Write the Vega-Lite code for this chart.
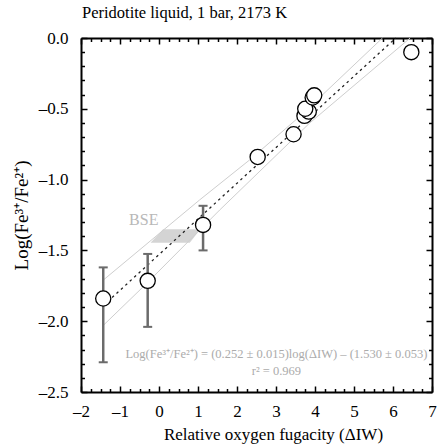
{
  "$schema": "https://vega.github.io/schema/vega-lite/v6.json",
  "autosize": "none",
  "width": 351,
  "height": 354,
  "padding": {"left": 81, "top": 38, "right": 5, "bottom": 55},
  "background": "white",
  "title": {"text": "Peridotite liquid, 1 bar, 2173 K", "anchor": "start", "frame": "group", "font": "Liberation Serif", "fontSize": 16.5, "fontWeight": "normal", "color": "black", "offset": 8, "dx": 1},
  "config": {
    "view": {"stroke": null},
    "axis": {"domainColor": "black", "domainWidth": 2, "tickColor": "black", "tickWidth": 1.5, "labelFont": "Liberation Serif", "labelFontSize": 17, "labelColor": "black", "titleFont": "Liberation Serif", "titleFontSize": 17, "titleFontWeight": "normal", "titleColor": "black", "grid": false, "labelOverlap": false, "labelFlush": false, "labelBound": false}
  },
  "datasets": {
    "pts": [
      {"dIW": -1.43, "logr": -1.84, "lo": -2.29, "hi": -1.62},
      {"dIW": -0.29, "logr": -1.715, "lo": -2.04, "hi": -1.525},
      {"dIW": 1.13, "logr": -1.32, "lo": -1.5, "hi": -1.185},
      {"dIW": 2.53, "logr": -0.84},
      {"dIW": 3.45, "logr": -0.68},
      {"dIW": 3.73, "logr": -0.55},
      {"dIW": 3.84, "logr": -0.52},
      {"dIW": 3.75, "logr": -0.5},
      {"dIW": 3.94, "logr": -0.42},
      {"dIW": 3.98, "logr": -0.405},
      {"dIW": 6.47, "logr": -0.1}
    ],
    "band": [
      {"side": "upper", "dIW": -1.43, "logr": -1.71},
      {"side": "upper", "dIW": 1.04, "logr": -1.144},
      {"side": "upper", "dIW": 2.32, "logr": -0.862},
      {"side": "upper", "dIW": 3.6, "logr": -0.556},
      {"side": "upper", "dIW": 5.73, "logr": 0.0},
      {"side": "lower", "dIW": -1.43, "logr": -2.03},
      {"side": "lower", "dIW": -0.36, "logr": -1.745},
      {"side": "lower", "dIW": 1.555, "logr": -1.215},
      {"side": "lower", "dIW": 3.857, "logr": -0.602},
      {"side": "lower", "dIW": 6.44, "logr": 0.0}
    ],
    "fit": [
      {"dIW": -1.43, "logr": -1.89},
      {"dIW": 6.07, "logr": 0.0}
    ],
    "bse": [
      {"logr": -1.446, "xl": -0.217, "xr": 0.788},
      {"logr": -1.351, "xl": 0.105, "xr": 1.061}
    ],
    "bselabel": [
      {"dIW": -0.39, "logr": -1.285, "label": "BSE"}
    ],
    "eq": [
      {"dIW": 3.01, "logr": -2.232, "label": "Log(Fe³⁺/Fe²⁺) = (0.252 ± 0.015)log(ΔIW) – (1.530 ± 0.053)"},
      {"dIW": 3.01, "logr": -2.35, "label": "r² = 0.969"}
    ]
  },
  "resolve": {"axis": {"x": "independent", "y": "independent"}},
  "layer": [
    {
      "data": {"name": "pts"},
      "mark": {"type": "point", "opacity": 0},
      "encoding": {
        "x": {"field": "dIW", "type": "quantitative", "scale": {"domain": [-2, 7], "nice": false, "zero": false},
          "axis": {"orient": "bottom", "title": "Relative oxygen fugacity (ΔIW)", "titlePadding": 5, "labelPadding": 17, "titleX": 192, "titleAlign": "center",
            "values": [-2,-1.75,-1.5,-1.25,-1,-0.75,-0.5,-0.25,0,0.25,0.5,0.75,1,1.25,1.5,1.75,2,2.25,2.5,2.75,3,3.25,3.5,3.75,4,4.25,4.5,4.75,5,5.25,5.5,5.75,6,6.25,6.5,6.75,7],
            "labelExpr": "abs(datum.value - round(datum.value)) < 0.01 ? (datum.value < 0 ? '–' : '') + format(abs(datum.value), 'd') : ''",
            "tickSize": {"condition": {"test": "abs(datum.value - round(datum.value)) < 0.01", "value": -6}, "value": -3.5}}},
        "y": {"field": "logr", "type": "quantitative", "scale": {"domain": [-2.5, 0], "nice": false, "zero": false},
          "axis": {"orient": "left", "title": "Log(Fe³⁺/Fe²⁺)", "titlePadding": 7, "titleFontSize": 19, "labelPadding": 19,
            "values": [-2.5,-2.4,-2.3,-2.2,-2.1,-2,-1.9,-1.8,-1.7,-1.6,-1.5,-1.4,-1.3,-1.2,-1.1,-1,-0.9,-0.8,-0.7,-0.6,-0.5,-0.4,-0.3,-0.2,-0.1,0],
            "labelExpr": "abs(datum.value*2 - round(datum.value*2)) < 0.01 ? (datum.value < 0 ? '–' : '') + format(abs(datum.value), '.1f') : ''",
            "tickSize": {"condition": {"test": "abs(datum.value*2 - round(datum.value*2)) < 0.01", "value": -6}, "value": -3.5}}}
      }
    },
    {
      "data": {"name": "pts"},
      "mark": {"type": "point", "opacity": 0},
      "encoding": {
        "x": {"field": "dIW", "type": "quantitative",
          "axis": {"orient": "top", "title": null, "labels": false,
            "values": [-2,-1.75,-1.5,-1.25,-1,-0.75,-0.5,-0.25,0,0.25,0.5,0.75,1,1.25,1.5,1.75,2,2.25,2.5,2.75,3,3.25,3.5,3.75,4,4.25,4.5,4.75,5,5.25,5.5,5.75,6,6.25,6.5,6.75,7],
            "tickSize": {"condition": {"test": "abs(datum.value - round(datum.value)) < 0.01", "value": -6}, "value": -3.5}}},
        "y": {"field": "logr", "type": "quantitative",
          "axis": {"orient": "right", "title": null, "labels": false,
            "values": [-2.5,-2.4,-2.3,-2.2,-2.1,-2,-1.9,-1.8,-1.7,-1.6,-1.5,-1.4,-1.3,-1.2,-1.1,-1,-0.9,-0.8,-0.7,-0.6,-0.5,-0.4,-0.3,-0.2,-0.1,0],
            "tickSize": {"condition": {"test": "abs(datum.value*2 - round(datum.value*2)) < 0.01", "value": -6}, "value": -3.5}}}
      }
    },
    {
      "data": {"name": "bse"},
      "mark": {"type": "area", "orient": "horizontal", "color": "#d4d4d4", "opacity": 1},
      "encoding": {
        "y": {"field": "logr", "type": "quantitative", "axis": null},
        "x": {"field": "xl", "type": "quantitative", "axis": null},
        "x2": {"field": "xr"}
      }
    },
    {
      "data": {"name": "band"},
      "mark": {"type": "line", "color": "#cecece", "strokeWidth": 1},
      "encoding": {
        "x": {"field": "dIW", "type": "quantitative", "axis": null},
        "y": {"field": "logr", "type": "quantitative", "axis": null},
        "detail": {"field": "side"}
      }
    },
    {
      "data": {"name": "fit"},
      "mark": {"type": "line", "color": "#222222", "strokeWidth": 1.3, "strokeDash": [2.5, 3.5]},
      "encoding": {
        "x": {"field": "dIW", "type": "quantitative", "axis": null},
        "y": {"field": "logr", "type": "quantitative", "axis": null}
      }
    },
    {
      "data": {"name": "pts"},
      "transform": [{"filter": "isValid(datum.lo)"}],
      "mark": {"type": "rule", "color": "#6b6b6b", "strokeWidth": 2.5},
      "encoding": {
        "x": {"field": "dIW", "type": "quantitative", "axis": null},
        "y": {"field": "lo", "type": "quantitative", "axis": null},
        "y2": {"field": "hi"}
      }
    },
    {
      "data": {"name": "pts"},
      "transform": [{"filter": "isValid(datum.lo)"}, {"fold": ["lo", "hi"], "as": ["end", "val"]}],
      "mark": {"type": "tick", "orient": "horizontal", "color": "#6b6b6b", "thickness": 2, "size": 9, "opacity": 1},
      "encoding": {
        "x": {"field": "dIW", "type": "quantitative", "axis": null},
        "y": {"field": "val", "type": "quantitative", "axis": null}
      }
    },
    {
      "data": {"name": "pts"},
      "mark": {"type": "point", "shape": "circle", "filled": false, "fill": "white", "fillOpacity": 1, "stroke": "black", "strokeWidth": 1.3, "size": 230, "opacity": 1},
      "encoding": {
        "x": {"field": "dIW", "type": "quantitative", "axis": null},
        "y": {"field": "logr", "type": "quantitative", "axis": null}
      }
    },
    {
      "data": {"name": "bselabel"},
      "mark": {"type": "text", "font": "Liberation Serif", "align": "center", "baseline": "middle", "fontSize": 16, "color": "#b8b8b8"},
      "encoding": {
        "x": {"field": "dIW", "type": "quantitative", "axis": null},
        "y": {"field": "logr", "type": "quantitative", "axis": null},
        "text": {"field": "label"}
      }
    },
    {
      "data": {"name": "eq"},
      "mark": {"type": "text", "font": "Liberation Serif", "align": "center", "baseline": "middle", "fontSize": 12.5, "color": "#ababab"},
      "encoding": {
        "x": {"field": "dIW", "type": "quantitative", "axis": null},
        "y": {"field": "logr", "type": "quantitative", "axis": null},
        "text": {"field": "label"}
      }
    }
  ]
}
